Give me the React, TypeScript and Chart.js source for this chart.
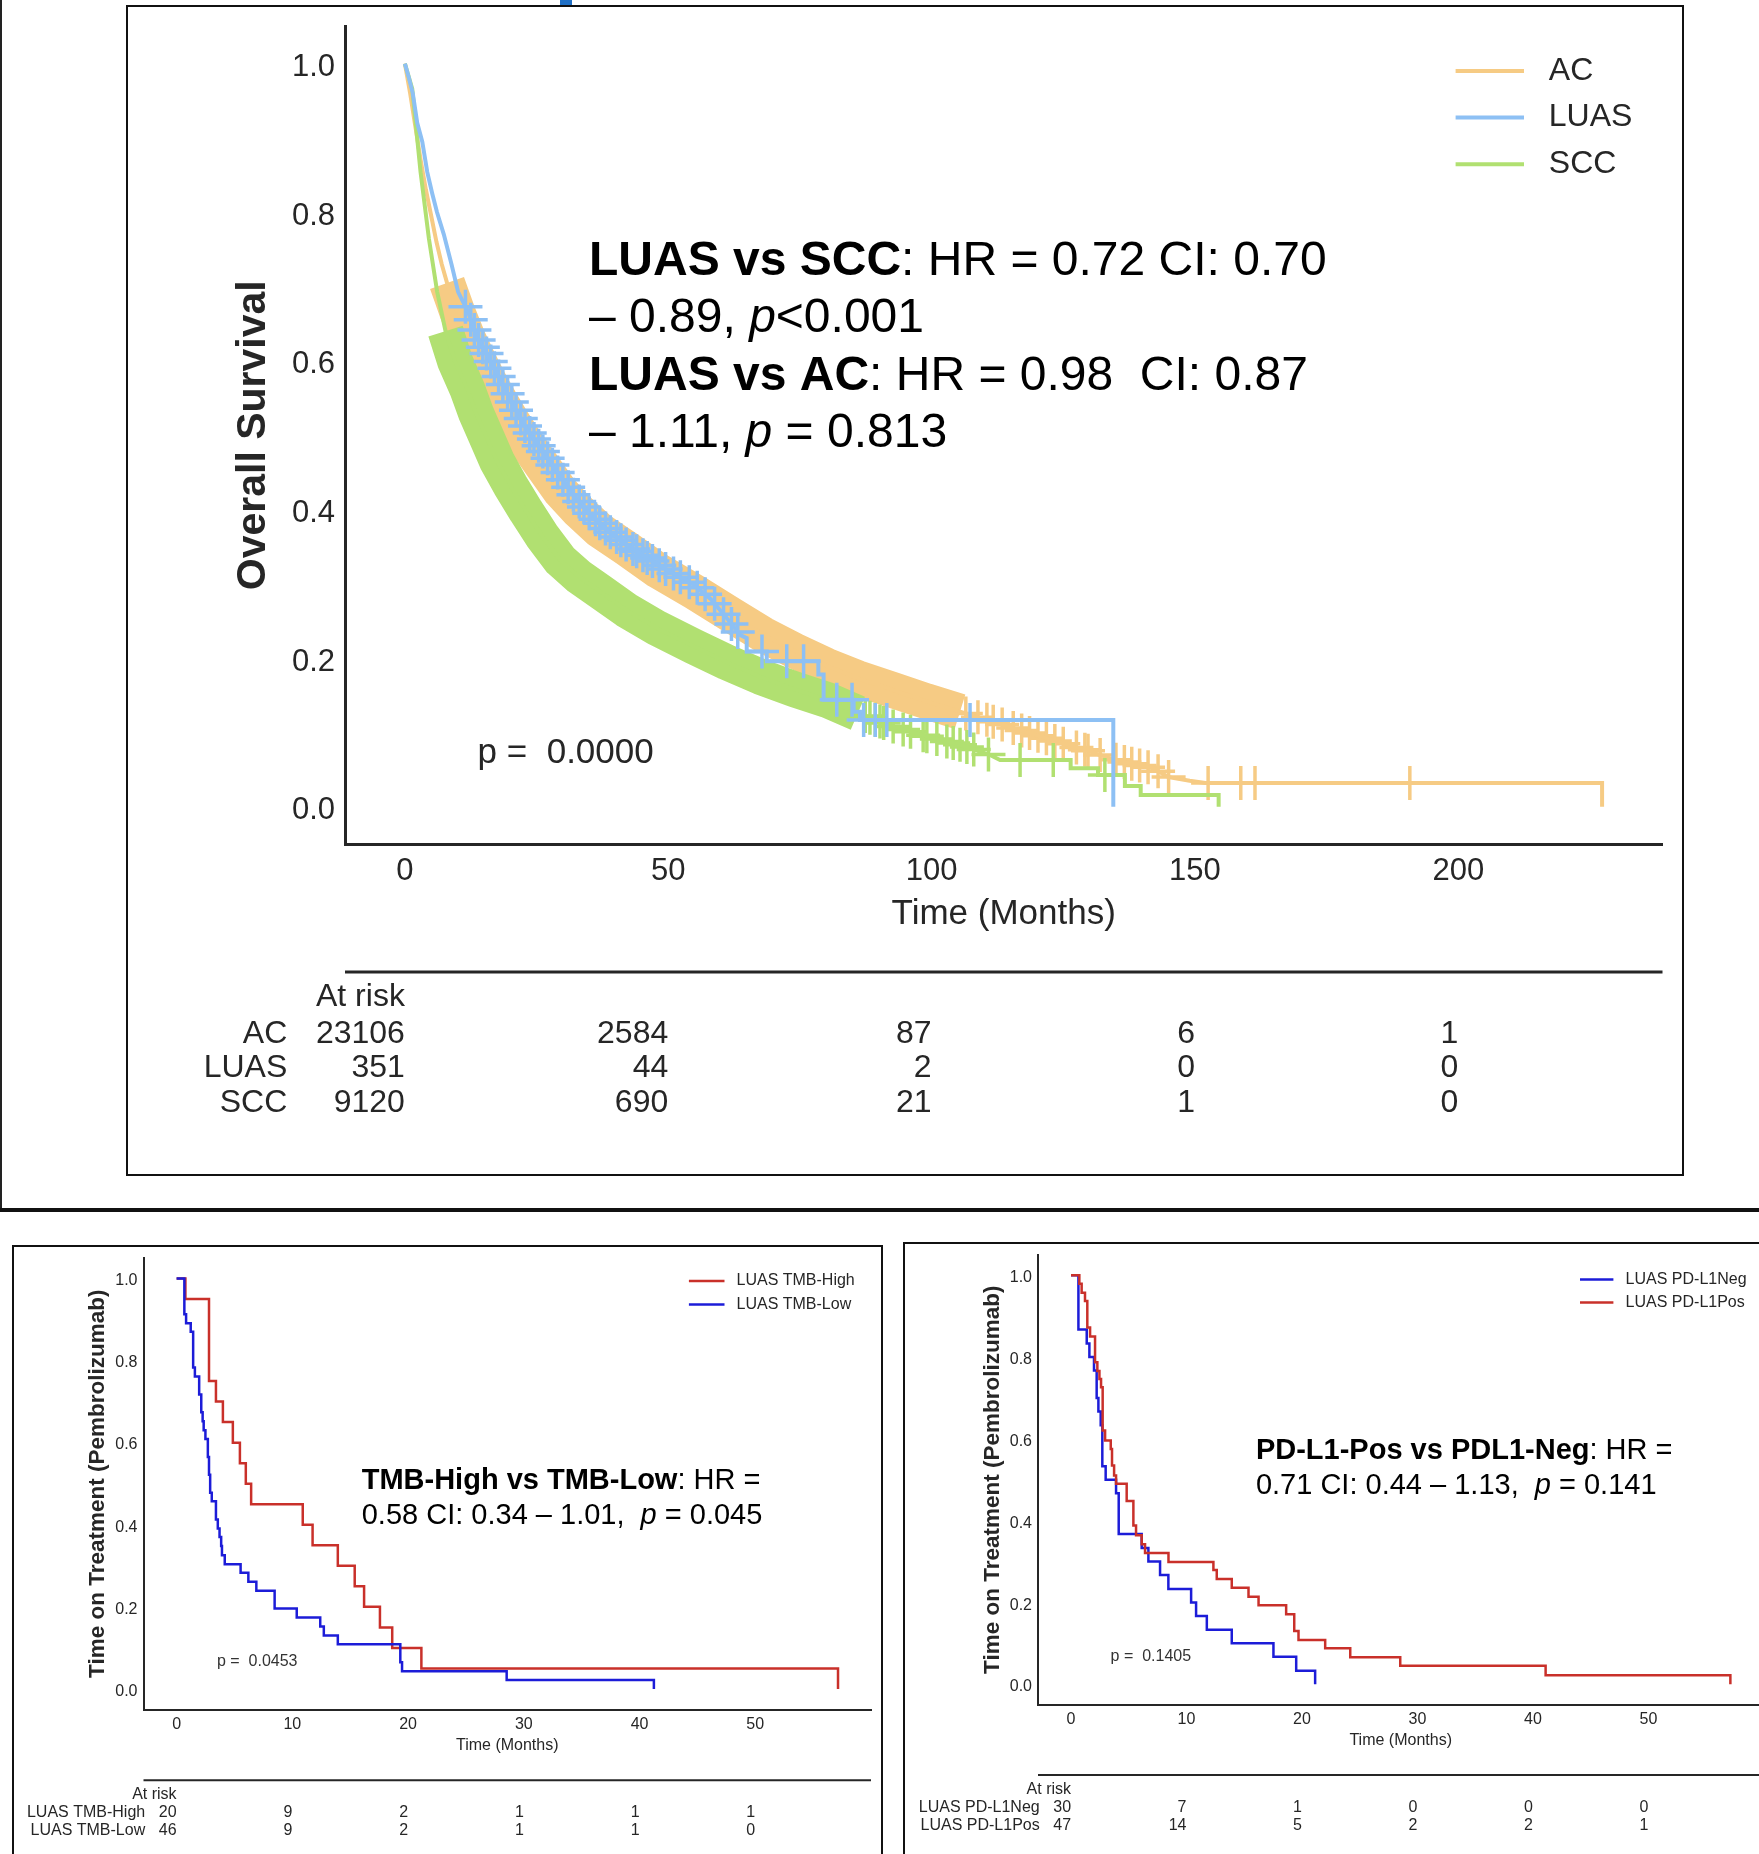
import React, { useEffect, useRef } from 'react';
import { Chart, registerables } from 'chart.js';

Chart.register(...registerables);

const FONT = '"Liberation Sans", Arial, Helvetica, sans-serif';
const INK = '#262626';

// ---------------- Top panel data (overall survival) ----------------
const topXTicks = [0, 50, 100, 150, 200];
const survTicks = [0, 0.2, 0.4, 0.6, 0.8, 1.0];

const acTime = [0, 1, 2, 3, 4, 5, 6, 7, 8, 9, 10, 12, 14, 16, 18, 20, 23, 26, 29.5, 33, 37, 42, 48, 55, 62, 68, 74, 80, 86, 92.7, 99, 105.4, 111, 116, 121, 125, 129, 134, 138, 142, 145, 149, 152, 227.3, 227.3];
const acSurv = [1, 0.96, 0.915, 0.87, 0.83, 0.795, 0.76, 0.73, 0.705, 0.685, 0.665, 0.63, 0.6, 0.572, 0.547, 0.523, 0.49, 0.46, 0.425, 0.398, 0.372, 0.348, 0.318, 0.289, 0.258, 0.232, 0.21, 0.19, 0.173, 0.157, 0.142, 0.128, 0.116, 0.105, 0.094, 0.085, 0.077, 0.065, 0.058, 0.052, 0.04, 0.035, 0.032, 0.032, 0];

const luasTime = [0, 0.8, 1.5, 2.35, 3.3, 4.25, 5.2, 6.1, 7.4, 8.85, 10.1, 11, 12, 13, 14, 15.5, 17, 19, 21, 23, 25, 27, 29.5, 32, 35, 38, 42.2, 46, 50, 54.8, 58, 61.1, 63.7, 64.9, 64.9, 68.7, 68.7, 78.5, 78.5, 79.5, 79.5, 85.2, 85.2, 86.4, 86.4, 134.5, 134.5];
const luasSurv = [1, 0.98, 0.96, 0.92, 0.895, 0.854, 0.825, 0.8, 0.77, 0.73, 0.693, 0.68, 0.666, 0.645, 0.628, 0.61, 0.59, 0.563, 0.535, 0.51, 0.49, 0.47, 0.445, 0.42, 0.395, 0.375, 0.352, 0.335, 0.318, 0.299, 0.28, 0.254, 0.231, 0.227, 0.209, 0.209, 0.196, 0.196, 0.178, 0.178, 0.144, 0.144, 0.128, 0.128, 0.117, 0.117, 0];

const sccTime = [0, 1.4, 2.98, 4.55, 6.13, 7.72, 9.5, 11.8, 13.5, 15.6, 17.5, 20, 23, 26, 29.5, 33, 37, 42, 48, 54.8, 61, 67.5, 74, 80.1, 86, 92.7, 99, 105.4, 111, 113, 126.4, 126.4, 131.6, 131.6, 136.7, 136.7, 139.7, 139.7, 154.5, 154.5];
const sccSurv = [1, 0.966, 0.854, 0.765, 0.693, 0.64, 0.6, 0.563, 0.53, 0.496, 0.465, 0.433, 0.398, 0.365, 0.332, 0.31, 0.29, 0.265, 0.24, 0.216, 0.195, 0.175, 0.158, 0.144, 0.126, 0.108, 0.095, 0.0835, 0.07, 0.063, 0.063, 0.052, 0.052, 0.043, 0.043, 0.028, 0.028, 0.016, 0.016, 0];

// censor marks that are individually visible
const acCensorTimes = [106.5, 108.8, 110.5, 111.7, 113.4, 115.5, 117.1, 118.6, 120.2, 121.8, 123.4, 125, 127.5, 129.1, 129.7, 132, 135, 136.6, 138, 139.5, 141.1, 143, 145, 152.5, 158.7, 161.4, 190.8];
const sccCensorTimes = [87.4, 88.3, 89.3, 90.2, 90.9, 92.7, 94.6, 96, 98.4, 99.1, 101, 102.9, 104.1, 105.4, 106.7, 108, 110.8, 116.8, 123.1, 132.9];
const luasCensorTimes = [11.5, 12.5, 13.2, 14, 14.8, 15.5, 16.3, 17, 17.8, 18.6, 19.5, 20.3, 21.1, 22, 22.8, 23.7, 24.5, 25.4, 26.2, 27.1, 28, 29, 30, 31, 32, 33.1, 34, 35, 36.2, 37, 38.1, 39, 40.2, 41, 42, 43.3, 44, 45.2, 46, 47, 48.3, 49.5, 51, 52.3, 54, 55.5, 57, 58.8, 60.5, 62, 63.2, 67.8, 72.5, 75.7, 82, 84.9, 87.1, 89.3, 91.5, 107.3];
// time spans where censoring is so dense that the marks merge into a ribbon
const acRibbonSpan = [8, 106];
const sccRibbonSpan = [7.7, 87];

const topRiskLabels = ['AC', 'LUAS', 'SCC'];
const topRiskAC = [23106, 2584, 87, 6, 1];
const topRiskLUAS = [351, 44, 2, 0, 0];
const topRiskSCC = [9120, 690, 21, 1, 0];

// ---------------- Bottom-left data (TMB) ----------------
const bottomXTicks = [0, 10, 20, 30, 40, 50];
const tmbHighTime = [0, 0.76, 2.8, 3.4, 4.0, 4.86, 5.47, 5.98, 6.44, 10.9, 11.75, 13.93, 15.39, 16.2, 17.57, 18.63, 21.15, 57.15];
const tmbHighSurv = [1, 0.95, 0.75, 0.70, 0.65, 0.60, 0.55, 0.50, 0.45, 0.40, 0.35, 0.30, 0.25, 0.20, 0.15, 0.10, 0.05, 0.0];
const tmbLowTime = [0, 0.67, 0.82, 1.22, 1.43, 1.58, 1.95, 2.13, 2.25, 2.34, 2.49, 2.70, 2.80, 2.90, 3.04, 3.40, 3.56, 3.71, 3.85, 3.92, 4.16, 5.53, 6.20, 6.89, 8.47, 10.38, 12.41, 12.72, 13.93, 19.33, 19.48, 28.52, 41.24];
const tmbLowSurv = [1, 0.913, 0.891, 0.870, 0.783, 0.761, 0.717, 0.674, 0.652, 0.630, 0.609, 0.565, 0.522, 0.478, 0.457, 0.413, 0.391, 0.370, 0.348, 0.326, 0.304, 0.283, 0.261, 0.239, 0.196, 0.174, 0.152, 0.130, 0.109, 0.065, 0.043, 0.022, 0.0];
const tmbRiskHigh = [20, 9, 2, 1, 1, 1];
const tmbRiskLow = [46, 9, 2, 1, 1, 0];

// ---------------- Bottom-right data (PD-L1) ----------------
const pdNegTime = [0, 0.64, 1.36, 1.59, 1.99, 2.22, 2.37, 2.57, 2.71, 3.0, 3.90, 4.13, 6.12, 6.70, 7.71, 8.43, 10.40, 10.83, 11.76, 13.92, 17.53, 19.50, 21.14];
const pdNegSurv = [1, 0.867, 0.833, 0.800, 0.767, 0.700, 0.667, 0.633, 0.533, 0.500, 0.467, 0.367, 0.333, 0.300, 0.267, 0.233, 0.200, 0.167, 0.133, 0.100, 0.067, 0.033, 0.0];
const pdPosTime = [0, 0.72, 0.92, 1.21, 1.41, 1.65, 2.08, 2.28, 2.46, 2.60, 2.74, 2.95, 3.44, 3.55, 3.73, 3.90, 4.82, 5.40, 5.63, 6.12, 6.41, 8.44, 12.33, 12.62, 13.92, 15.37, 16.24, 18.63, 19.33, 19.70, 22.01, 24.18, 28.51, 41.1, 57.1];
const pdPosSurv = [1, 0.979, 0.957, 0.937, 0.872, 0.850, 0.787, 0.766, 0.746, 0.726, 0.620, 0.596, 0.575, 0.535, 0.510, 0.490, 0.448, 0.388, 0.364, 0.342, 0.321, 0.299, 0.279, 0.257, 0.236, 0.214, 0.193, 0.171, 0.130, 0.108, 0.088, 0.066, 0.045, 0.022, 0.0];
const pdRiskNeg = [30, 7, 1, 0, 0, 0];
const pdRiskPos = [47, 14, 5, 2, 2, 1];

// ---------------- Text ----------------
type Run = { text: string; bold?: boolean; italic?: boolean };
const topNote: Run[][] = [
  [{ text: 'LUAS vs SCC', bold: true }, { text: ': HR = 0.72 CI: 0.70' }],
  [{ text: '\u2013 0.89, ' }, { text: 'p', italic: true }, { text: '<0.001' }],
  [{ text: 'LUAS vs AC', bold: true }, { text: ': HR = 0.98  CI: 0.87' }],
  [{ text: '\u2013 1.11, ' }, { text: 'p', italic: true }, { text: ' = 0.813' }],
];
const tmbNote: Run[][] = [
  [{ text: 'TMB-High vs TMB-Low', bold: true }, { text: ': HR =' }],
  [{ text: '0.58 CI: 0.34 \u2013 1.01,  ' }, { text: 'p', italic: true }, { text: ' = 0.045' }],
];
const pdNote: Run[][] = [
  [{ text: 'PD-L1-Pos vs PDL1-Neg', bold: true }, { text: ': HR =' }],
  [{ text: '0.71 CI: 0.44 \u2013 1.13,  ' }, { text: 'p', italic: true }, { text: ' = 0.141' }],
];

// ---------------- helpers ----------------
const AC_COLOR = '#F6CB84';
const LUAS_COLOR = '#8DC0F4';
const SCC_COLOR = '#B1E071';
const RED = '#C9302A';
const BLUE = '#1C1CD8';

function pts(times: number[], surv: number[]) {
  return times.map((t, i) => ({ x: t, y: surv[i] }));
}
function valueAt(times: number[], surv: number[], t: number, stepped: boolean) {
  let i = 0;
  while (i < times.length - 1 && times[i + 1] <= t) i++;
  if (stepped || i >= times.length - 1) return surv[i];
  const t0 = times[i], t1 = times[i + 1];
  if (t1 === t0) return surv[i + 1];
  return surv[i] + ((surv[i + 1] - surv[i]) * (t - t0)) / (t1 - t0);
}

interface Series {
  label: string; color: string; times: number[]; surv: number[]; stepped: boolean;
  lineWidth: number; order: number; censor?: number[]; ribbon?: number[];
}
interface Spec {
  width: number; height: number;
  area: { left: number; top: number; right: number; bottom: number };
  xMin: number; xMax: number; xTicks: number[];
  tickSize: number; xTickPad: number; yTickPad: number; yLabelOffset: number; axisWidth: number;
  yTitle: string; yTitleSize: number; yTitleCenterX: number;
  xTitleSize: number; xTitleGap: number;
  series: Series[];
  crossRadius: number; crossWidth: number; ribbonWidth: number;
  legend: { x0: number; x1: number; labelX: number; ys: number[]; size: number; lineWidth: number };
  note: { x: number; ys: number[]; size: number; lines: Run[][] };
  pText: { x: number; y: number; size: number; text: string; color: string };
  risk: { lineY: number; lineWidth: number; headerY: number; rowYs: number[]; labelRight: number; size: number; labels: string[]; rows: number[][] };
}

function drawRuns(ctx: CanvasRenderingContext2D, x: number, y: number, runs: Run[], size: number) {
  let cx = x;
  ctx.textAlign = 'left';
  ctx.textBaseline = 'middle';
  for (const r of runs) {
    ctx.font = `${r.italic ? 'italic ' : ''}${r.bold ? 'bold ' : ''}${size}px ${FONT}`;
    ctx.fillText(r.text, cx, y);
    cx += ctx.measureText(r.text).width;
  }
}

function zeroPad(sc: any) {
  sc.paddingTop = 0;
  sc.paddingBottom = 0;
  sc.paddingLeft = 0;
  sc.paddingRight = 0;
}

function buildConfig(spec: Spec): any {
  const datasets: any[] = [];
  for (const s of spec.series) {
    datasets.push({
      label: s.label, data: pts(s.times, s.surv), borderColor: s.color, backgroundColor: s.color,
      borderWidth: s.lineWidth, stepped: s.stepped ? 'before' : false, pointRadius: 0, tension: 0,
      fill: false, order: s.order, borderJoinStyle: 'miter',
    });
    if (s.ribbon) {
      const [a, b] = s.ribbon;
      const data = pts(s.times, s.surv).filter((p) => p.x >= a && p.x <= b);
      datasets.push({
        label: s.label + ' censored', data, borderColor: s.color, borderWidth: spec.ribbonWidth,
        borderCapStyle: 'butt', borderJoinStyle: 'round', stepped: s.stepped ? 'before' : false,
        pointRadius: 0, tension: 0, fill: false, order: s.order,
      });
    }
    if (s.censor) {
      datasets.push({
        label: s.label + ' censor marks',
        data: s.censor.map((t) => ({ x: t, y: valueAt(s.times, s.surv, t, s.stepped) })),
        showLine: false, pointStyle: 'cross', pointRadius: spec.crossRadius,
        pointBorderWidth: spec.crossWidth, pointBorderColor: s.color, pointBackgroundColor: s.color,
        borderColor: s.color, order: s.order,
      });
    }
  }

  const xTitleLH = spec.xTitleSize * 1.2;
  const xAxisHeight = spec.xTitleGap + xTitleLH / 2;
  const yTitleLH = spec.yTitleSize * 1.2;

  const overlay = {
    id: 'kmOverlay',
    afterDraw(chart: any) {
      const ctx: CanvasRenderingContext2D = chart.ctx;
      const xs = chart.scales.x;
      const ca = chart.chartArea;
      ctx.save();
      // legend
      const lg = spec.legend;
      spec.series.forEach((s, i) => {
        ctx.strokeStyle = s.color;
        ctx.lineWidth = lg.lineWidth;
        ctx.lineCap = 'butt';
        ctx.beginPath();
        ctx.moveTo(lg.x0, lg.ys[i]);
        ctx.lineTo(lg.x1, lg.ys[i]);
        ctx.stroke();
        ctx.fillStyle = INK;
        ctx.font = `${lg.size}px ${FONT}`;
        ctx.textAlign = 'left';
        ctx.textBaseline = 'middle';
        ctx.fillText(s.label, lg.labelX, lg.ys[i]);
      });
      // annotation
      ctx.fillStyle = '#000';
      spec.note.lines.forEach((runs, i) => drawRuns(ctx, spec.note.x, spec.note.ys[i], runs, spec.note.size));
      // p value
      ctx.fillStyle = spec.pText.color;
      ctx.font = `${spec.pText.size}px ${FONT}`;
      ctx.textAlign = 'left';
      ctx.textBaseline = 'middle';
      ctx.fillText(spec.pText.text, spec.pText.x, spec.pText.y);
      // at-risk table
      const rk = spec.risk;
      ctx.strokeStyle = INK;
      ctx.lineWidth = rk.lineWidth;
      ctx.beginPath();
      ctx.moveTo(ca.left, rk.lineY);
      ctx.lineTo(ca.right, rk.lineY);
      ctx.stroke();
      ctx.fillStyle = INK;
      ctx.font = `${rk.size}px ${FONT}`;
      ctx.textAlign = 'right';
      ctx.textBaseline = 'middle';
      ctx.fillText('At risk', xs.getPixelForValue(spec.xTicks[0]), rk.headerY);
      rk.rows.forEach((row, i) => {
        ctx.fillText(rk.labels[i], rk.labelRight, rk.rowYs[i]);
        row.forEach((v, j) => ctx.fillText(String(v), xs.getPixelForValue(spec.xTicks[j]), rk.rowYs[i]));
      });
      ctx.restore();
    },
  };

  return {
    type: 'line',
    data: { datasets },
    plugins: [overlay],
    options: {
      animation: false,
      responsive: false,
      maintainAspectRatio: false,
      events: [],
      layout: {
        padding: {
          left: 0,
          top: spec.area.top,
          right: spec.width - spec.area.right,
          bottom: spec.height - spec.area.bottom - xAxisHeight,
        },
      },
      plugins: { legend: { display: false }, tooltip: { enabled: false }, title: { display: false } },
      scales: {
        x: {
          type: 'linear', min: spec.xMin, max: spec.xMax,
          grid: { display: false, drawTicks: false },
          border: { display: true, color: INK, width: spec.axisWidth },
          ticks: { color: INK, font: { family: FONT, size: spec.tickSize }, padding: spec.xTickPad, autoSkip: false, maxRotation: 0, minRotation: 0 },
          afterBuildTicks: (sc: any) => { sc.ticks = spec.xTicks.map((v) => ({ value: v })); },
          afterFit: (sc: any) => { sc.height = xAxisHeight; zeroPad(sc); },
          title: { display: true, text: 'Time (Months)', color: INK, font: { family: FONT, size: spec.xTitleSize }, padding: { top: 0, bottom: 0 } },
        },
        y: {
          type: 'linear', min: -0.05, max: 1.05,
          grid: { display: false, drawTicks: false },
          border: { display: true, color: INK, width: spec.axisWidth },
          ticks: { color: INK, font: { family: FONT, size: spec.tickSize }, padding: spec.yTickPad, labelOffset: spec.yLabelOffset, autoSkip: false, callback: (v: any) => Number(v).toFixed(1) },
          afterBuildTicks: (sc: any) => { sc.ticks = survTicks.map((v) => ({ value: v })); },
          afterFit: (sc: any) => { sc.width = spec.area.left; zeroPad(sc); },
          title: {
            display: true, text: spec.yTitle, color: INK,
            font: { family: FONT, size: spec.yTitleSize, weight: 'bold' },
            padding: { top: spec.yTitleCenterX - yTitleLH / 2, bottom: 0 },
          },
        },
      },
    },
  };
}

// ---------------- panel specs ----------------
const topSpec: Spec = {
  width: 1556, height: 1169,
  area: { left: 218, top: 20, right: 1536, bottom: 838 },
  xMin: -11.37, xMax: 238.77, xTicks: topXTicks,
  tickSize: 31, xTickPad: 8.4, yTickPad: 10, yLabelOffset: 4, axisWidth: 3,
  yTitle: 'Overall Survival', yTitleSize: 41, yTitleCenterX: 127,
  xTitleSize: 35, xTitleGap: 70,
  crossRadius: 17, crossWidth: 3.5, ribbonWidth: 36,
  series: [
    { label: 'AC', color: AC_COLOR, times: acTime, surv: acSurv, stepped: false, lineWidth: 4, order: 3, censor: acCensorTimes, ribbon: acRibbonSpan },
    { label: 'LUAS', color: LUAS_COLOR, times: luasTime, surv: luasSurv, stepped: false, lineWidth: 4, order: 1, censor: luasCensorTimes },
    { label: 'SCC', color: SCC_COLOR, times: sccTime, surv: sccSurv, stepped: false, lineWidth: 4, order: 2, censor: sccCensorTimes, ribbon: sccRibbonSpan },
  ],
  legend: { x0: 1328.6, x1: 1397, labelX: 1421.8, ys: [65, 111.6, 158.3], size: 32, lineWidth: 4 },
  note: { x: 462, ys: [255.5, 313, 370.5, 428], size: 48, lines: topNote },
  pText: { x: 350.6, y: 747, size: 35, text: 'p =  0.0000', color: INK },
  risk: { lineY: 966, lineWidth: 3, headerY: 991, rowYs: [1028, 1062, 1097.5], labelRight: 160.3, size: 32, labels: topRiskLabels, rows: [topRiskAC, topRiskLUAS, topRiskSCC] },
};

const tmbSpec: Spec = {
  width: 866, height: 607,
  area: { left: 129.5, top: 10.9, right: 857, bottom: 462.5 },
  xMin: -2.86, xMax: 60.0, xTicks: bottomXTicks,
  tickSize: 16, xTickPad: 5.6, yTickPad: 6, yLabelOffset: 2.4, axisWidth: 2,
  yTitle: 'Time on Treatment (Pembrolizumab)', yTitleSize: 22.5, yTitleCenterX: 83.6,
  xTitleSize: 16, xTitleGap: 36.2,
  crossRadius: 0, crossWidth: 0, ribbonWidth: 0,
  series: [
    { label: 'LUAS TMB-High', color: RED, times: tmbHighTime, surv: tmbHighSurv, stepped: true, lineWidth: 2.5, order: 2 },
    { label: 'LUAS TMB-Low', color: BLUE, times: tmbLowTime, surv: tmbLowSurv, stepped: true, lineWidth: 2.5, order: 1 },
  ],
  legend: { x0: 674.9, x1: 710.5, labelX: 722.5, ys: [33.9, 57.4], size: 16, lineWidth: 2.5 },
  note: { x: 347.7, ys: [234.2, 268.8], size: 29, lines: tmbNote },
  pText: { x: 203, y: 415, size: 16, text: 'p =  0.0453', color: '#333' },
  risk: { lineY: 533.3, lineWidth: 2, headerY: 547.2, rowYs: [565.2, 583.1], labelRight: 131.2, size: 16, labels: ['LUAS TMB-High', 'LUAS TMB-Low'], rows: [tmbRiskHigh, tmbRiskLow] },
};

const pdSpec: Spec = {
  width: 866, height: 609,
  area: { left: 133, top: 9.7, right: 858.4, bottom: 459.7 },
  xMin: -2.86, xMax: 59.96, xTicks: bottomXTicks,
  tickSize: 16, xTickPad: 5.6, yTickPad: 6, yLabelOffset: 2.8, axisWidth: 2,
  yTitle: 'Time on Treatment (Pembrolizumab)', yTitleSize: 22.5, yTitleCenterX: 87.5,
  xTitleSize: 16, xTitleGap: 36.2,
  crossRadius: 0, crossWidth: 0, ribbonWidth: 0,
  series: [
    { label: 'LUAS PD-L1Neg', color: BLUE, times: pdNegTime, surv: pdNegSurv, stepped: true, lineWidth: 2.5, order: 2 },
    { label: 'LUAS PD-L1Pos', color: RED, times: pdPosTime, surv: pdPosSurv, stepped: true, lineWidth: 2.5, order: 1 },
  ],
  legend: { x0: 675, x1: 708.4, labelX: 720.6, ys: [34.5, 57.5], size: 16, lineWidth: 2.5 },
  note: { x: 350.9, ys: [206.2, 240.9], size: 29, lines: pdNote },
  pText: { x: 205.6, y: 412, size: 16, text: 'p =  0.1405', color: '#333' },
  risk: { lineY: 530, lineWidth: 2, headerY: 544.8, rowYs: [562.6, 580.5], labelRight: 134.7, size: 16, labels: ['LUAS PD-L1Neg', 'LUAS PD-L1Pos'], rows: [pdRiskNeg, pdRiskPos] },
};

function KMCanvas({ spec, left, top }: { spec: Spec; left: number; top: number }) {
  const ref = useRef<HTMLCanvasElement>(null);
  useEffect(() => {
    if (!ref.current) return;
    const chart = new Chart(ref.current, buildConfig(spec));
    return () => chart.destroy();
  }, [spec]);
  return (
    <canvas
      ref={ref}
      width={spec.width}
      height={spec.height}
      style={{ position: 'absolute', left, top, width: spec.width, height: spec.height }}
    />
  );
}

export default function App() {
  const box = (l: number, t: number, w: number, h: number) => (
    <div style={{ position: 'absolute', left: l, top: t, width: w, height: h, border: '2px solid #111', boxSizing: 'border-box', pointerEvents: 'none' }} />
  );
  return (
    <div style={{ position: 'absolute', left: 0, top: 0, width: 1759, height: 1854, overflow: 'hidden', background: '#fff' }}>
      <div style={{ position: 'absolute', left: 0, top: 0, width: 2, height: 1210, background: '#222' }} />
      <div style={{ position: 'absolute', left: 560, top: 0, width: 12, height: 5, background: '#1F6FC5' }} />
      <KMCanvas spec={topSpec} left={127} top={6} />
      {box(126, 5, 1558, 1171)}
      <div style={{ position: 'absolute', left: 0, top: 1208, width: 1759, height: 4, background: '#111' }} />
      <KMCanvas spec={tmbSpec} left={14} top={1247} />
      {box(12, 1245, 871, 640)}
      <KMCanvas spec={pdSpec} left={905} top={1245} />
      {box(903, 1242, 900, 640)}
    </div>
  );
}
